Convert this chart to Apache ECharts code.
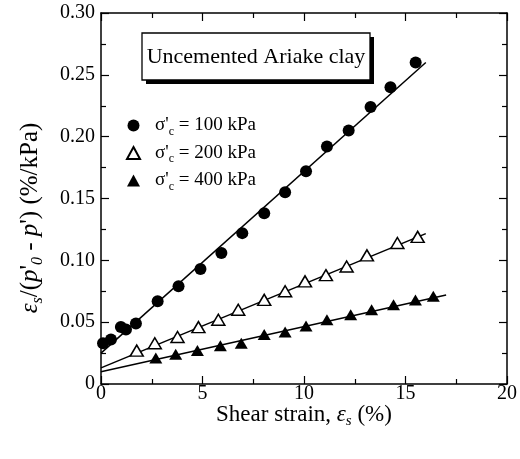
<!DOCTYPE html>
<html>
<head>
<meta charset="utf-8">
<script src="https://cdn.jsdelivr.net/npm/echarts@6/dist/echarts.min.js"></script>
<style>html,body{margin:0;padding:0;background:#fff;}#c{width:520px;height:459px;}</style>
</head>
<body>
<div id="c"></div>
<script>
// ---- data ----
var xTicks = [0, 5, 10, 15, 20];
var yTicks = [0, 0.05, 0.10, 0.15, 0.20, 0.25, 0.30];

var s100x = [0.1, 0.49, 0.98, 1.23, 1.72, 2.79, 3.82, 4.90, 5.93, 6.96, 8.04, 9.07, 10.1, 11.13, 12.2, 13.28, 14.26, 15.5];
var s100y = [0.033, 0.036, 0.046, 0.044, 0.049, 0.067, 0.079, 0.093, 0.106, 0.122, 0.138, 0.155, 0.172, 0.192, 0.205, 0.224, 0.240, 0.260];

var s200x = [1.76, 2.65, 3.77, 4.80, 5.78, 6.76, 8.04, 9.07, 10.05, 11.08, 12.1, 13.1, 14.6, 15.6];
var s200y = [0.027, 0.033, 0.038, 0.046, 0.052, 0.060, 0.068, 0.075, 0.083, 0.088, 0.095, 0.104, 0.114, 0.119];

var s400x = [2.70, 3.68, 4.75, 5.88, 6.91, 8.04, 9.07, 10.1, 11.13, 12.3, 13.33, 14.41, 15.49, 16.37];
var s400y = [0.021, 0.024, 0.027, 0.031, 0.033, 0.040, 0.042, 0.047, 0.052, 0.056, 0.060, 0.064, 0.068, 0.071];

var fit100 = [[0, 0.025], [16, 0.260]];
var fit200 = [[0, 0.013], [16, 0.1216]];
var fit400 = [[0, 0.0099], [17, 0.072]];

var names = ['100', '200', '400'];

function zip(a, b) { return a.map(function (v, i) { return [v, b[i]]; }); }

var FONT = 'Liberation Serif';
var chart = echarts.init(document.getElementById('c'), null, {renderer: 'canvas'});

var baseAxis = {
  axisLine: {show: true, onZero: false, lineStyle: {color: '#000', width: 1.5}},
  axisTick: {show: true, inside: true, length: 8, lineStyle: {color: '#000', width: 1.2}},
  minorTick: {show: true, splitNumber: 2, length: 5, lineStyle: {color: '#000', width: 1.2}},
  splitLine: {show: false},
  minorSplitLine: {show: false}
};

function axis(extra) { return Object.assign({}, JSON.parse(JSON.stringify(baseAxis)), extra); }

function mkRich(fs, subFs, subPad) {
  return {
    n: {fontFamily: FONT, fontSize: fs, color: '#000'},
    i: {fontFamily: FONT, fontSize: fs, fontStyle: 'italic', color: '#000'},
    isub: {fontFamily: FONT, fontSize: subFs, fontStyle: 'italic', color: '#000', padding: [subPad, 0, 0, 0]}
  };
}

var xRich = mkRich(23, 15, 14);
var yRich = mkRich(25, 16, 15);

var legRich = {
  n: {fontFamily: FONT, fontSize: 19, color: '#000'},
  sub: {fontFamily: FONT, fontSize: 12, color: '#000', padding: [12, 0, 0, 0]}
};

var option = {
  backgroundColor: '#fff',
  animation: false,
  grid: {left: 101, right: 10, top: 13, bottom: 75},
  xAxis: [
    axis({type: 'value', min: 0, max: 20, interval: 5, position: 'bottom',
      axisLabel: {show: true, margin: 0, fontFamily: FONT, fontSize: 20, color: '#000'},
      name: '{n|Shear strain, }{i|ε}{isub|s}{n| (%)}',
      nameLocation: 'middle', nameGap: 16, nameMoveOverlap: false,
      nameTextStyle: {rich: xRich, verticalAlign: 'top'}
    }),
    axis({type: 'value', min: 0, max: 20, interval: 5, position: 'top',
      axisLabel: {show: false}})
  ],
  yAxis: [
    axis({type: 'value', min: 0, max: 0.30, interval: 0.05, position: 'left',
      axisLabel: {show: true, margin: 6, fontFamily: FONT, fontSize: 20, color: '#000',
        formatter: function (v) { return v === 0 ? '0' : v.toFixed(2); }}
    }),
    axis({type: 'value', min: 0, max: 0.30, interval: 0.05, position: 'right',
      axisLabel: {show: false}})
  ],
  legend: {
    orient: 'vertical', left: 121, top: 111, itemGap: 6,
    itemWidth: 13, itemHeight: 12,
    data: names.map(function (n) { return 's' + n; }),
    formatter: function (name) { return '{n|σ\'}{sub|c}{n| = ' + name.slice(1) + ' kPa}'; },
    textStyle: {rich: legRich, padding: [0, 0, 0, 10]}
  },
  graphic: [
    {type: 'rect', shape: {x: 146, y: 37, width: 228, height: 47}, style: {fill: '#000'}, z: 10},
    {type: 'rect', shape: {x: 142, y: 33, width: 228, height: 47}, style: {fill: '#fff', stroke: '#000', lineWidth: 1.3}, z: 11},
    {type: 'text', x: 256, y: 57, z: 12,
      style: {text: 'Uncemented Ariake clay', fontFamily: FONT, fontSize: 22, fill: '#000', align: 'center', verticalAlign: 'middle'}},
    {type: 'text', x: 30, y: 218, rotation: Math.PI / 2, z: 12,
      style: {
        text: '{i|ε}{isub|s}{n|/(}{i|p}{n|\'}{isub|0}{n| - }{i|p}{n|\') (%/kPa)}',
        rich: yRich, align: 'center', verticalAlign: 'middle'
      }}
  ],
  series: [
    {name: 'fit100', type: 'line', data: fit100, symbol: 'none', lineStyle: {color: '#000', width: 1.5}, z: 2},
    {name: 'fit200', type: 'line', data: fit200, symbol: 'none', lineStyle: {color: '#000', width: 1.5}, z: 2},
    {name: 'fit400', type: 'line', data: fit400, symbol: 'none', lineStyle: {color: '#000', width: 1.5}, z: 2},
    {name: 's100', type: 'scatter', data: zip(s100x, s100y), symbol: 'circle', symbolSize: 12,
      itemStyle: {color: '#000', opacity: 1}, z: 5},
    {name: 's200', type: 'scatter', data: zip(s200x, s200y), symbol: 'triangle', symbolSize: [13, 11],
      itemStyle: {color: '#fff', borderColor: '#000', borderWidth: 1.5, opacity: 1}, z: 5},
    {name: 's400', type: 'scatter', data: zip(s400x, s400y), symbol: 'triangle', symbolSize: [13, 11],
      itemStyle: {color: '#000', opacity: 1}, z: 5}
  ]
};
chart.setOption(option);
</script>
</body>
</html>
